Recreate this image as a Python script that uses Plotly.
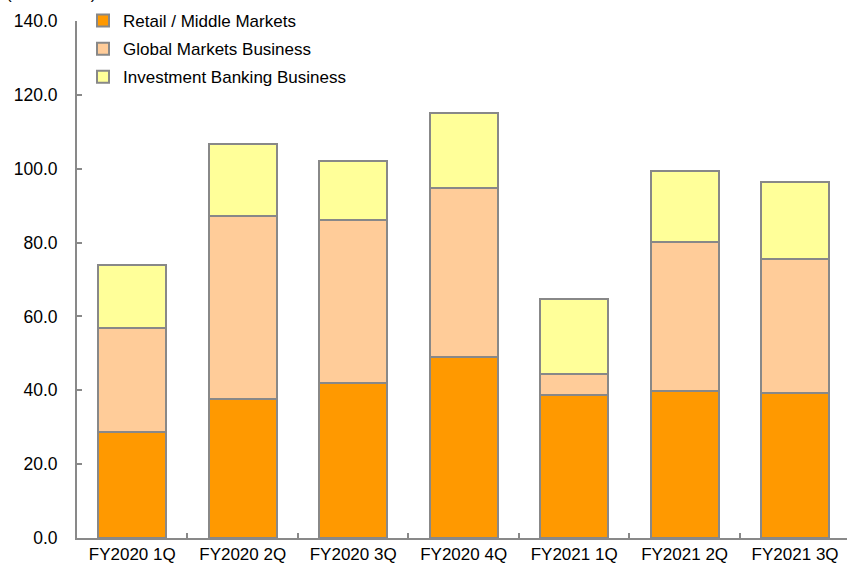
import plotly.graph_objects as go

categories = ["FY2020 1Q", "FY2020 2Q", "FY2020 3Q", "FY2020 4Q", "FY2021 1Q", "FY2021 2Q", "FY2021 3Q"]
retail = [28.8, 37.6, 42.1, 49.0, 38.6, 39.7, 39.2]
global_cum = [57.0, 87.2, 86.1, 94.7, 44.4, 80.2, 75.6]
ib_cum = [73.9, 106.8, 102.2, 115.0, 64.6, 99.4, 96.4]
global_mkts = [round(g - r, 1) for g, r in zip(global_cum, retail)]
ib = [round(i - g, 1) for i, g in zip(ib_cum, global_cum)]
y_ticks = [0, 20, 40, 60, 80, 100, 120, 140]

names = ["Retail / Middle Markets", "Global Markets Business", "Investment Banking Business"]
colors = ["#FF9900", "#FFCC99", "#FFFF99"]
series = [retail, global_mkts, ib]

fig = go.Figure()
for i, (nm, col, vals) in enumerate(zip(names, colors, series)):
    fig.add_trace(go.Bar(
        x=categories, y=vals, name=nm, legendgroup=f"g{i}",
        marker=dict(color=col, line=dict(color="#888888", width=2)),
        width=0.615,
    ))

W, H = 847, 570
L, R, T, B = 77, 0, 21, 32
ph = H - T - B

fig.update_layout(
    width=W, height=H,
    margin=dict(l=L, r=R, t=T, b=B, autoexpand=False),
    barmode="stack",
    plot_bgcolor="white", paper_bgcolor="white",
    font=dict(family="Liberation Sans, Arial, sans-serif", size=17, color="black"),
    showlegend=True,
    legend=dict(
        traceorder="grouped", tracegroupgap=3,
        xref="container", yref="container",
        x=83 / W, y=1 - 3 / H, xanchor="left", yanchor="top",
        bgcolor="rgba(0,0,0,0)", font=dict(size=17),
        itemwidth=30,
    ),
    xaxis=dict(
        type="category", range=[-0.5, 6.47], tickangle=0,
        showline=True, linecolor="#898989", linewidth=2,
        ticks="inside", ticklen=5, tickcolor="#898989", tickwidth=2,
        tickson="boundaries", showgrid=False, zeroline=False,
    ),
    yaxis=dict(
        range=[0, 140], tickvals=y_ticks, tickformat=".1f",
        showline=True, linecolor="#898989", linewidth=2,
        ticks="inside", ticklen=5, tickcolor="#898989", tickwidth=2,
        showgrid=False, zeroline=False, ticklabelstandoff=14,
        tickfont=dict(size=17.5),
    ),
    annotations=[dict(
        text="(JPY billion)", xref="paper", yref="paper",
        x=-0.095, y=1 + (T - 5) / ph, xanchor="left", yanchor="bottom",
        showarrow=False, font=dict(size=17),
    )],
)

fig.write_html("out.html")
